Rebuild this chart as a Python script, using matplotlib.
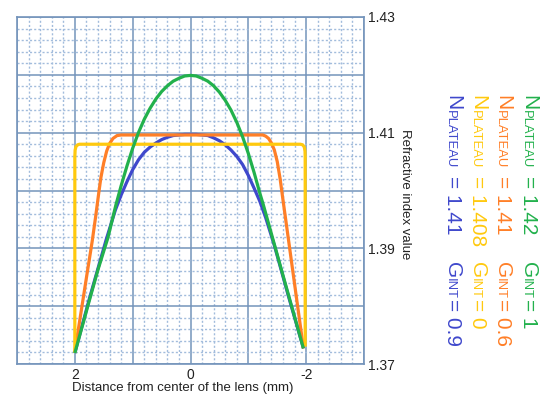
import matplotlib
matplotlib.use("Agg")
import matplotlib.pyplot as plt
from matplotlib.ticker import MultipleLocator, FixedLocator, FixedFormatter

plt.rcParams['font.family'] = ['Liberation Sans', 'DejaVu Sans']

# ---- data ----
green_x = [2.0, 1.754, 1.6, 1.429, 1.29, 1.2, 1.1, 1.0, 0.9, 0.8, 0.7, 0.6, 0.5, 0.4, 0.3, 0.2, 0.1, 0.0,
           -0.1, -0.2, -0.3, -0.4, -0.5, -0.6, -0.7, -0.8, -0.9, -1.0, -1.1, -1.2, -1.26, -1.6, -1.953]
green_y = [1.3719, 1.3808, 1.3863, 1.3918, 1.3975, 1.4008, 1.4042, 1.4073, 1.4100, 1.4123, 1.4142,
           1.4158, 1.4171, 1.4181, 1.4189, 1.4194, 1.4198, 1.4199,
           1.4198, 1.4194, 1.4189, 1.4181, 1.4170, 1.4156, 1.4139, 1.4118, 1.4093, 1.4064, 1.4031,
           1.3995, 1.3975, 1.3853, 1.3727]

blue_x = [2.0, 1.754, 1.458, 1.3, 1.2, 1.1, 1.0, 0.9, 0.8, 0.7, 0.6, 0.5, 0.4, 0.3, 0.2, 0.1, 0.0,
          -0.1, -0.2, -0.3, -0.4, -0.5, -0.6, -0.7, -0.8, -0.9, -1.0, -1.1, -1.2, -1.3, -1.45, -1.7, -1.953]
blue_y = [1.3719, 1.3811, 1.3915, 1.3966, 1.3992, 1.4015, 1.4036, 1.4053, 1.4066, 1.4075, 1.4082,
          1.4088, 1.4092, 1.4095, 1.4096, 1.4097, 1.4097,
          1.4097, 1.4096, 1.4095, 1.4091, 1.4086, 1.4079, 1.4070, 1.4059, 1.4045, 1.4026, 1.4004,
          1.3981, 1.3953, 1.3905, 1.3815, 1.3727]

orange_x = [2.0, 1.8, 1.7, 1.64, 1.59, 1.55, 1.5, 1.45, 1.4, 1.34, 1.27, 1.2, 0.0,
            -1.25, -1.3, -1.35, -1.4, -1.45, -1.5, -1.55, -1.6, -1.65, -1.8, -1.953]
orange_y = [1.3721, 1.3849, 1.3912, 1.3955, 1.3993, 1.4022, 1.4048, 1.4068, 1.4081, 1.4090, 1.4095,
            1.4096, 1.4096,
            1.4096, 1.4094, 1.4090, 1.4082, 1.4070, 1.4050, 1.4020, 1.3983, 1.3947, 1.3838, 1.3727]

yellow_x = [2.0, 2.0, 1.995, 1.98, 1.95, 1.92, 0.0, -1.90, -1.94, -1.968, -1.98, -1.983, -1.983]
yellow_y = [1.3719, 1.4058, 1.4070, 1.4076, 1.4079, 1.4080, 1.4080, 1.4080, 1.4079, 1.4075,
            1.4068, 1.4058, 1.3730]

series = [
    ("blue", blue_x, blue_y, "#3F48CC"),
    ("orange", orange_x, orange_y, "#FF7F27"),
    ("yellow", yellow_x, yellow_y, "#FFC90E"),
    ("green", green_x, green_y, "#22B14C"),
]

x_tick_vals = [3, 2, 1, 0, -1, -2, -3]
x_tick_labels = ["", "2", "", "0", "", "-2", ""]
y_tick_vals = [1.37, 1.38, 1.39, 1.40, 1.41, 1.42, 1.43]
y_tick_labels = ["1.37", "", "1.39", "", "1.41", "", "1.43"]

legend_rows = [
    # (color, N value text, G value text, baseline x px)
    ("#22B14C", "= 1.42", "= 1", 523),
    ("#FF7F27", "= 1.41", "= 0.6", 497),
    ("#FFC90E", "= 1.408", "= 0", 472),
    ("#3F48CC", "= 1.41", "= 0.9", 447),
]

W, H = 549, 394
fig = plt.figure(figsize=(W / 100, H / 100), dpi=100)
ax = fig.add_axes([17 / W, 1 - 364 / H, (364 - 17) / W, (364 - 17) / H])

major_c = "#7494bb"
minor_c = "#a2bcdc"

for name, xs, ys, c in series:
    ax.plot(xs, ys, color=c, lw=2.3, solid_joinstyle="round", solid_capstyle="butt")

ax.set_xlim(3, -3)
ax.set_ylim(1.37, 1.43)
ax.xaxis.set_major_locator(FixedLocator(x_tick_vals))
ax.xaxis.set_major_formatter(FixedFormatter(x_tick_labels))
ax.yaxis.set_major_locator(FixedLocator(y_tick_vals))
ax.yaxis.set_major_formatter(FixedFormatter(y_tick_labels))
ax.xaxis.set_minor_locator(MultipleLocator(0.2))
ax.yaxis.set_minor_locator(MultipleLocator(0.002))
ax.yaxis.tick_right()

ax.grid(which="major", color=major_c, lw=1.1, ls="-")
ax.grid(which="minor", color=minor_c, lw=1.0, ls=(0, (1.5, 1.5)))
ax.set_axisbelow(True)
ax.tick_params(which="both", length=0)
ax.tick_params(axis="x", pad=3, labelsize=10, colors="#222222")
ax.tick_params(axis="y", pad=3, labelsize=10, colors="#222222")
for sp in ax.spines.values():
    sp.set_color(major_c)
    sp.set_linewidth(1.2)

fig.text(183 / W, 1 - 382 / H, "Distance from center of the lens (mm)", ha="center", va="top",
         fontsize=9.5, color="#222222")
fig.text(405 / W, 1 - 194 / H, "Refractive index value", rotation=-90, ha="center", va="center",
         fontsize=9.5, color="#222222")

big, small = 15, 9.4
def rtext(xpx, ypx, s, size, c):
    fig.text(xpx / W, 1 - ypx / H, s, rotation=-90, rotation_mode="anchor",
             ha="left", va="baseline", fontsize=size, color=c)

for c, nval, gval, bx in legend_rows:
    rtext(bx, 95, "N", big, c)
    rtext(bx, 110.5, "PLATEAU", small, c)
    rtext(bx, 176, nval, big, c)
    rtext(bx, 262, "G", big, c)
    rtext(bx, 278.5, "INT", small, c)
    rtext(bx, 299, gval, big, c)

fig.savefig("out.png", dpi=100)
